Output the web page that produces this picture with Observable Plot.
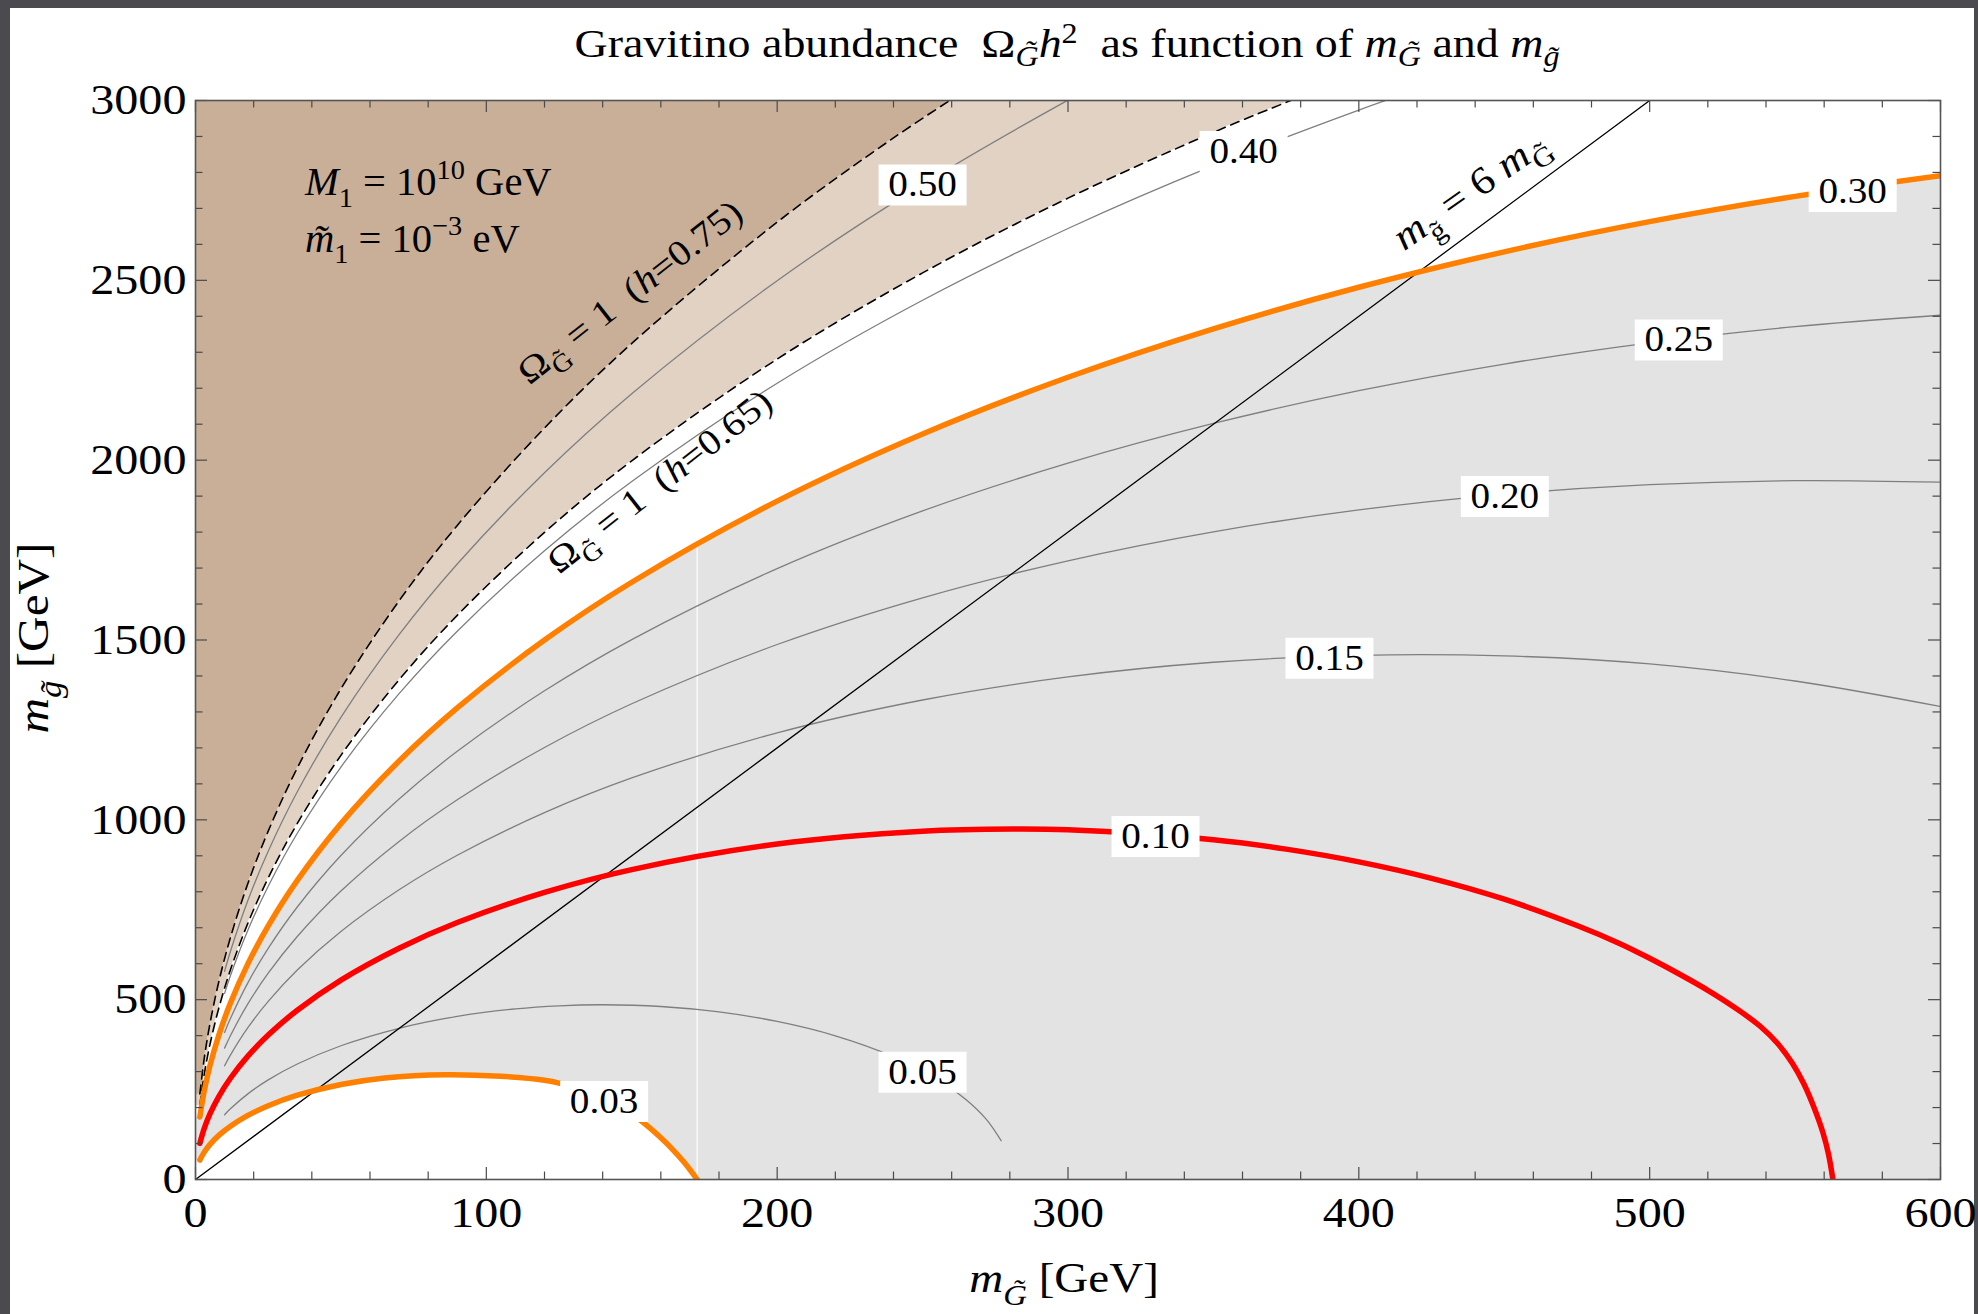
<!DOCTYPE html>
<html>
<head>
<meta charset="utf-8">
<script src="https://cdn.jsdelivr.net/npm/d3@7"></script>
<script src="https://cdn.jsdelivr.net/npm/@observablehq/plot@0.6"></script>
<style>
  html, body { margin: 0; padding: 0; background: #4a4a4f; }
  #page { position: relative; width: 1978px; height: 1314px; overflow: hidden; background: #4a4a4f; }
  #panel { position: absolute; left: 10px; top: 8px; width: 1964px; height: 1306px; background: #fff; }
  #chart { position: absolute; left: 10px; top: 8px; width: 1964px; height: 1306px; }
  #title { position: absolute; top: 23px; left: 1067px; transform: translateX(-50%) scaleX(1.12);
           white-space: nowrap; font-family: "Liberation Serif", "Times New Roman", serif;
           font-size: 41px; line-height: 41px; color: #000; }
  #title .sb { font-size: 70%; vertical-align: -0.32em; line-height: 0; }
  #title .sp { font-size: 70%; vertical-align: 0.5em; line-height: 0; }
</style>
</head>
<body>
<div id="page">
  <div id="panel"></div>
  <div id="chart"></div>
  <div id="title">Gravitino abundance&nbsp; Ω<span class="sb"><i>G&#x303;</i></span><i>h</i><span class="sp">2</span>&nbsp; as function of <i>m</i><span class="sb"><i>G&#x303;</i></span> and <i>m</i><span class="sb"><i>g&#x303;</i></span></div>
</div>
<script>
// ---------- data: contour lines [m_G~ (GeV), m_g~ (GeV)] ----------
const c003 = [[1.5,54.1],[3,76.1],[5,97.7],[8,122.6],[12,148.2],[18,178.1],[25,205.1],[35,234.3],[50,264.3],[65,282.4],[86,291.3],[105,287],[120,276],[125,268],[135,240],[145,205],[152,170],[156,145],[160,116],[164,84],[168,48],[172.5,0]];
const c005 = [[10,180.2],[12,196.6],[18,238.1],[25,276.9],[35,321.1],[50,371.9],[70,420.5],[90,453.6],[110,474.4],[125,483.0],[140,485.8],[160,481.0],[180,465.9],[200,439.5],[220,399.6],[240,341.5],[255,279.3],[265,222.0],[272,166.6],[277,107.9]];
const c010 = [[1.5,100.5],[3,141.9],[5,182.9],[8,230.7],[12,281.6],[18,342.9],[25,401.6],[35,470.7],[50,554.5],[70,643.2],[90,714.4],[120,798.2],[150,861.7],[200,932.7],[250,968.2],[281,974.3],[300,972.1],[350,944.7],[375,918.6],[400,883.2],[425,837.4],[450,779.4],[475,706.2],[490,655],[500,615],[510,572],[520,526],[530,474],[538,426],[544,378],[549,324],[553,266],[556.5,200],[559.5,132],[561.5,70],[563,0]];
const c015 = [[10,316.1],[12,345.8],[18,422.0],[25,495.2],[35,582.4],[50,689.6],[70,805.5],[90,901.5],[120,1020.0],[150,1116.5],[200,1241.8],[250,1333.2],[300,1397.5],[350,1438.2],[400,1457.4],[450,1455.9],[500,1433.5],[550,1386.0],[600,1315.0]];
const c020 = [[10,365.3],[12,399.8],[18,488.3],[25,573.7],[35,675.7],[50,802.0],[70,940.0],[90,1055.7],[120,1201.2],[150,1322.7],[200,1487.5],[250,1617.4],[300,1720.2],[350,1800.7],[400,1861.6],[450,1904.9],[500,1931.8],[550,1943.0],[600,1938.7]];
const c025 = [[10,408.7],[12,447.4],[18,546.8],[25,642.7],[35,757.7],[50,900.7],[70,1057.8],[90,1190.4],[120,1358.7],[150,1501.2],[200,1698.5],[250,1859.0],[300,1991.8],[350,2102.0],[400,2193.1],[450,2267.3],[500,2326.4],[550,2371.3],[600,2403.0]];
const c030 = [[1.5,173.9],[3,245.9],[5,317.2],[8,400.9],[12,490.4],[18,599.5],[25,705.1],[35,831.7],[50,989.5],[70,1163.7],[90,1311.2],[120,1499.8],[150,1660.6],[200,1886.0],[250,2072.7],[300,2230.5],[350,2365.3],[400,2480.7],[450,2579.3],[500,2663.1],[550,2733.4],[600,2791.1]];
const c040 = [[10,517.5],[12,566.7],[18,693.1],[25,815.5],[35,962.8],[50,1146.8],[70,1350.7],[90,1524.5],[120,1748.1],[150,1940.5],[200,2213.8],[250,2444.6],[300,2644.1],[350,2818.9],[400,2973.5],[420,3030.3]];
const c050 = [[10,578.8],[12,633.9],[18,775.5],[25,912.7],[35,1078.0],[50,1285.0],[70,1514.9],[90,1711.4],[120,1965.2],[150,2184.9],[200,2499.0],[250,2766.9],[300,3001.2],[320,3087.2]];
// Omega_G = 1 boundaries (dashed)
const h075 = [[1.5,238.1],[3,336.7],[5,434.5],[8,549.4],[12,672.4],[18,822.8],[25,968.6],[35,1144.2],[50,1364.3],[70,1609.0],[90,1818.5],[120,2089.5],[150,2324.6],[200,2661.7],[240,2896.0],[270,3055.8]];
const h065 = [[1.5,206.4],[3,291.8],[5,376.5],[8,476.0],[12,582.5],[18,712.5],[25,838.4],[35,989.9],[50,1179.3],[70,1389.4],[90,1568.5],[120,1799.2],[150,1998.1],[200,2281.1],[250,2520.7],[300,2728.5],[350,2911.3],[380,3010.9],[400,3073.5]];
// m_g = 6 m_G line
const diagLine = [[0,0],[500,3000]];
// contour labels
const labelText = ["0.50","0.40","0.30","0.25","0.20","0.15","0.10","0.05","0.03"];
const labelX    = [250, 360.4, 569.8, 510, 450.2, 389.9, 330.1, 250, 140.5];
const labelY    = [2765, 2858, 2747, 2334, 1899, 1449, 953.6, 298, 217];
// rendering seam (thin white vertical line)
const seamX = 172.5, seamTop = 1765;
// ticks
const xMajor = [0,100,200,300,400,500,600];
const xMinor = [20,40,60,80,120,140,160,180,220,240,260,280,320,340,360,380,420,440,460,480,520,540,560,580];
const yMajor = [0,500,1000,1500,2000,2500,3000];
const yMinor = [100,200,300,400,600,700,800,900,1100,1200,1300,1400,1600,1700,1800,1900,2100,2200,2300,2400,2600,2700,2800,2900];

// ---------- styles ----------
const FONT = '"Liberation Serif","Times New Roman",serif';
const SX = 1.12;
const CURVE = "catmull-rom";
const TAN_DARK = "#c9af97", TAN_LIGHT = "#e1d2c3", GRAY_FILL = "#e3e3e3";
const ORANGE = "#ff8000", RED = "#ff0000", GLINE = "#7f7f7f", TICK = "#4a4a4a";
const W = 1964, H = 1306, mL = 185, mT = 92, mR = 34, mB = 135;
const IW = W - mL - mR, IH = H - mT - mB;

const X = d => d[0], Y = d => d[1];
const extendLeft = arr => [[0, arr[0][1]], ...arr];
const labels = labelText.map((t, i) => ({t, x: labelX[i], y: labelY[i]}));
const boxSymbol = {draw(ctx) { ctx.rect(-44, -20.5, 88, 41); }};

const grayLine = arr => Plot.line(arr, {x: X, y: Y, stroke: GLINE, strokeWidth: 1.3, curve: CURVE, clip: true});

const plot = Plot.plot({
  width: W, height: H,
  marginLeft: mL, marginTop: mT, marginRight: mR, marginBottom: mB,
  style: {fontFamily: FONT, background: "white", color: "black", overflow: "visible"},
  x: {domain: [0, 600]},
  y: {domain: [0, 3000]},
  marks: [
    // fills
    Plot.areaY(extendLeft(c030), {x: X, y1: 0, y2: Y, fill: GRAY_FILL, curve: CURVE, clip: true}),
    Plot.areaY(extendLeft(c003), {x: X, y1: 0, y2: Y, fill: "white", curve: CURVE, clip: true}),
    Plot.areaY(extendLeft(h065), {x: X, y1: Y, y2: 3000, fill: TAN_LIGHT, curve: CURVE, clip: true}),
    Plot.areaY(extendLeft(h075), {x: X, y1: Y, y2: 3000, fill: TAN_DARK, curve: CURVE, clip: true}),
    Plot.ruleX([seamX], {y1: 0, y2: seamTop, stroke: "white", strokeWidth: 1.3, strokeOpacity: 0.9}),
    // thin contours
    grayLine(c050), grayLine(c040), grayLine(c025), grayLine(c020), grayLine(c015), grayLine(c005),
    // Omega = 1 dashed boundaries
    Plot.line(h075, {x: X, y: Y, stroke: "black", strokeWidth: 1.6, strokeDasharray: "9,6", curve: CURVE, clip: true}),
    Plot.line(h065, {x: X, y: Y, stroke: "black", strokeWidth: 1.6, strokeDasharray: "9,6", curve: CURVE, clip: true}),
    // m_g = 6 m_G
    Plot.line(diagLine, {x: X, y: Y, stroke: "black", strokeWidth: 1.3, clip: true}),
    // thick contours
    Plot.line(c003, {x: X, y: Y, stroke: ORANGE, strokeWidth: 5.5, curve: CURVE, clip: true}),
    Plot.line(c010, {x: X, y: Y, stroke: RED, strokeWidth: 5.5, curve: CURVE, clip: true}),
    Plot.line(c030, {x: X, y: Y, stroke: ORANGE, strokeWidth: 5.5, curve: CURVE, clip: true}),
    // contour labels
    Plot.dot(labels, {x: "x", y: "y", symbol: boxSymbol, fill: "white", stroke: "none"}),
    Plot.text(labels, {x: "x", y: "y", text: "t", fontSize: 35, fill: "black"}),
    // inward ticks on all four sides
    Plot.ruleX(xMajor, {stroke: TICK, strokeWidth: 1.2, insetTop: IH - 12}),
    Plot.ruleX(xMajor, {stroke: TICK, strokeWidth: 1.2, insetBottom: IH - 12}),
    Plot.ruleX(xMinor, {stroke: TICK, strokeWidth: 1.2, insetTop: IH - 7.5}),
    Plot.ruleX(xMinor, {stroke: TICK, strokeWidth: 1.2, insetBottom: IH - 7.5}),
    Plot.ruleY(yMajor, {stroke: TICK, strokeWidth: 1.2, insetRight: IW - 12}),
    Plot.ruleY(yMajor, {stroke: TICK, strokeWidth: 1.2, insetLeft: IW - 12}),
    Plot.ruleY(yMinor, {stroke: TICK, strokeWidth: 1.2, insetRight: IW - 7.5}),
    Plot.ruleY(yMinor, {stroke: TICK, strokeWidth: 1.2, insetLeft: IW - 7.5}),
    Plot.frame({stroke: "#555", strokeWidth: 1.6}),
    // axes (labels only)
    Plot.axisX({ticks: xMajor, tickSize: 0, tickPadding: 17, tickFormat: d => String(d), fontSize: 43, label: null}),
    Plot.axisY({ticks: yMajor, tickSize: 0, tickPadding: 9, tickFormat: d => String(d), fontSize: 43, label: null})
  ]
});

// widen text glyphs to match the reference's typeface proportions
plot.querySelectorAll("text").forEach(t => {
  const tr = t.getAttribute("transform");
  if (tr) {
    t.setAttribute("transform", tr + ` scale(${SX},1)`);
  } else {
    const xa = t.getAttribute("x"), ya = t.getAttribute("y");
    const num = v => v != null && /^-?[\d.]+$/.test(v.trim());
    const x = num(xa) ? +xa : 0, y = num(ya) ? +ya : 0;
    if (num(xa)) t.removeAttribute("x");
    if (num(ya)) t.removeAttribute("y");
    t.setAttribute("transform", `translate(${x},${y}) scale(${SX},1)`);
  }
});

document.getElementById("chart").appendChild(plot);

// ---------- rich-text annotations ----------
const NS = "http://www.w3.org/2000/svg";
function rich(svg, {x, y, rotate = 0, size, anchor = "start", stretch = SX}, parts) {
  const g = document.createElementNS(NS, "g");
  g.setAttribute("transform", `translate(${x},${y}) rotate(${rotate}) scale(${stretch},1)`);
  const t = document.createElementNS(NS, "text");
  t.setAttribute("font-family", FONT);
  t.setAttribute("font-size", size);
  t.setAttribute("text-anchor", anchor);
  t.setAttribute("fill", "black");
  t.style.whiteSpace = "pre";
  let shift = 0;
  for (const p of parts) {
    const s = document.createElementNS(NS, "tspan");
    const target = p.sub ? 0.3 * size : p.sup ? -0.42 * size : 0;
    s.setAttribute("dy", (target - shift).toFixed(2));
    shift = target;
    if (p.sub || p.sup) s.setAttribute("font-size", (size * 0.7).toFixed(1));
    if (p.i) s.setAttribute("font-style", "italic");
    s.textContent = p.t;
    t.appendChild(s);
  }
  g.appendChild(t);
  svg.appendChild(g);
}
const sx = plot.scale("x"), sy = plot.scale("y");
const P = (a, b) => ({x: sx.apply(a), y: sy.apply(b)});

rich(plot, {...P(37.8, 2736), size: 39, stretch: 1.04}, [{t: "M", i: true}, {t: "1", sub: true}, {t: " = 10"}, {t: "10", sup: true}, {t: " GeV"}]);
rich(plot, {...P(37.8, 2578), size: 39, stretch: 1.04}, [{t: "m\u0303", i: true}, {t: "1", sub: true}, {t: " = 10"}, {t: "\u22123", sup: true}, {t: " eV"}]);
rich(plot, {...P(152, 2440), rotate: -38, size: 36, anchor: "middle"}, [{t: "Ω"}, {t: "G\u0303", sub: true}, {t: " = 1  ("}, {t: "h", i: true}, {t: "=0.75)"}]);
rich(plot, {...P(162.3, 1914), rotate: -38, size: 36, anchor: "middle"}, [{t: "Ω"}, {t: "G\u0303", sub: true}, {t: " = 1  ("}, {t: "h", i: true}, {t: "=0.65)"}]);
rich(plot, {...P(441, 2722), rotate: -35, size: 39, anchor: "middle"}, [{t: "m", i: true}, {t: "g\u0303", sub: true}, {t: " = 6 "}, {t: "m", i: true}, {t: "G\u0303", sub: true}]);
// axis titles
rich(plot, {x: 1054, y: 1284, size: 42, anchor: "middle"}, [{t: "m", i: true}, {t: "G\u0303", i: true, sub: true}, {t: " [GeV]"}]);
rich(plot, {x: 38, y: 630, rotate: -90, size: 44, anchor: "middle"}, [{t: "m", i: true}, {t: "g\u0303", i: true, sub: true}, {t: " [GeV]"}]);
</script>
</body>
</html>
